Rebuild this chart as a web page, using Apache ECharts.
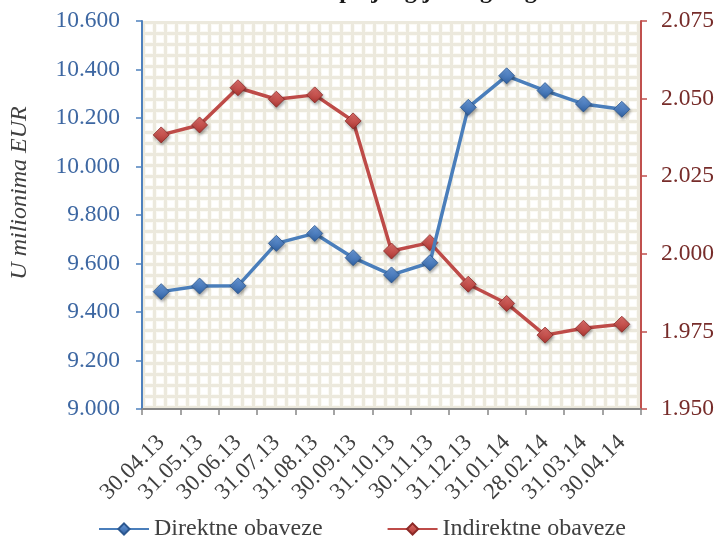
<!DOCTYPE html>
<html>
<head>
<meta charset="utf-8">
<script src="https://cdn.jsdelivr.net/npm/echarts@6/dist/echarts.min.js"></script>
<style>
  html, body { margin: 0; padding: 0; background: #ffffff; }
  #chart { width: 719px; height: 540px; }
</style>
</head>
<body>
<div id="chart"></div>
<script>
// Month-end dates (dd.mm.yy)
const categories = ['30.04.13', '31.05.13', '30.06.13', '31.07.13', '31.08.13', '30.09.13',
  '31.10.13', '30.11.13', '31.12.13', '31.01.14', '28.02.14', '31.03.14', '30.04.14'];

// Direct liabilities, million EUR (left axis)
const direktne = [9484, 9507, 9508, 9683, 9724, 9624, 9553, 9603, 10244, 10374, 10313, 10258, 10236];

// Indirect liabilities, million EUR (right axis)
const indirektne = [2038.3, 2041.5, 2053.5, 2049.8, 2051.2, 2042.8, 2000.9, 2003.6, 1990.2, 1984.0, 1973.8, 1976.0, 1977.3];

const seriesNames = ['Direktne obaveze', 'Indirektne obaveze'];
const titleText = 'Struktura spoljnog javnog duga';
const leftAxisName = 'U milionima EUR';

const FONT = '"Liberation Serif", "Times New Roman", serif';

// thousands separated by a dot: 10600 -> "10.600"
function fmt(v) {
  return String(Math.round(v)).replace(/\B(?=(\d{3})+(?!\d))/g, '.');
}

// small cream grid pattern used as plot background
function makePattern() {
  const c = document.createElement('canvas');
  c.width = 11; c.height = 11;
  const g = c.getContext('2d');
  g.fillStyle = '#ece9dd';
  g.fillRect(0, 0, 11, 11);
  g.fillStyle = '#fbfaf5';
  g.fillRect(2, 2, 8, 8);
  g.fillStyle = '#ffffff';
  g.fillRect(3, 3, 6, 6);
  return { image: c, repeat: 'repeat' };
}

function diamondStyle(light, dark, border) {
  return {
    color: new echarts.graphic.LinearGradient(0, 0, 0, 1, [
      { offset: 0, color: light },
      { offset: 1, color: dark }
    ]),
    borderColor: border,
    borderWidth: 0.8,
    shadowColor: 'rgba(0,0,0,0.35)',
    shadowBlur: 3,
    shadowOffsetX: 1,
    shadowOffsetY: 2
  };
}

const chart = echarts.init(document.getElementById('chart'), null, { renderer: 'canvas' });

chart.setOption({
  animation: false,
  backgroundColor: '#ffffff',
  title: {
    text: titleText,
    left: 380,
    textAlign: 'center',
    top: -25,
    textStyle: { fontFamily: FONT, fontSize: 24, fontWeight: 'bold', color: '#1a1a1a' }
  },
  grid: {
    left: 142, right: 78, top: 21, bottom: 131,
    show: true,
    borderWidth: 0,
    backgroundColor: makePattern()
  },
  legend: {
    data: seriesNames,
    left: 93,
    top: 512,
    itemWidth: 50,
    itemHeight: 14,
    itemGap: 64,
    textStyle: { fontFamily: FONT, fontSize: 24, color: '#404040' }
  },
  xAxis: {
    type: 'category',
    data: categories,
    boundaryGap: true,
    axisLine: { lineStyle: { color: '#878787', width: 2 } },
    axisTick: { show: true, length: 6, lineStyle: { color: '#878787', width: 1.5 } },
    axisLabel: {
      rotate: 45,
      margin: 30,
      interval: 0,
      fontFamily: FONT,
      fontSize: 23,
      color: '#404040'
    },
    splitLine: { show: false }
  },
  yAxis: [
    {
      type: 'value',
      min: 9000, max: 10600, interval: 200,
      position: 'left',
      name: leftAxisName,
      nameLocation: 'middle',
      nameGap: 110,
      nameRotate: 90,
      nameTextStyle: {
        fontFamily: FONT, fontSize: 24, fontStyle: 'italic', color: '#404040',
        padding: [0, 0, 0, 44]
      },
      axisLine: { show: true, lineStyle: { color: '#4f81bd', width: 2 } },
      axisTick: { show: true, length: 6, lineStyle: { color: '#4f81bd', width: 1.5 } },
      axisLabel: {
        margin: 22,
        fontFamily: FONT, fontSize: 23.5, color: '#3d67a2',
        formatter: fmt
      },
      splitLine: { show: false }
    },
    {
      type: 'value',
      min: 1950, max: 2075, interval: 25,
      position: 'right',
      axisLine: { show: true, lineStyle: { color: '#c0504d', width: 2 } },
      axisTick: { show: true, length: 6, lineStyle: { color: '#c0504d', width: 1.5 } },
      axisLabel: {
        margin: 20,
        fontFamily: FONT, fontSize: 23.5, color: '#772c2a',
        formatter: fmt
      },
      splitLine: { show: false }
    }
  ],
  series: [
    {
      name: seriesNames[0],
      type: 'line',
      yAxisIndex: 0,
      data: direktne,
      symbol: 'diamond',
      symbolSize: 16,
      lineStyle: { color: '#4a7ebb', width: 3.5 },
      itemStyle: diamondStyle('#6e9fe0', '#2e5e9e', '#2b578f'),
      z: 3
    },
    {
      name: seriesNames[1],
      type: 'line',
      yAxisIndex: 1,
      data: indirektne,
      symbol: 'diamond',
      symbolSize: 16,
      lineStyle: { color: '#be4b48', width: 3.5 },
      itemStyle: diamondStyle('#e4726e', '#a83430', '#8c2a27'),
      z: 2
    }
  ]
});
</script>
</body>
</html>
